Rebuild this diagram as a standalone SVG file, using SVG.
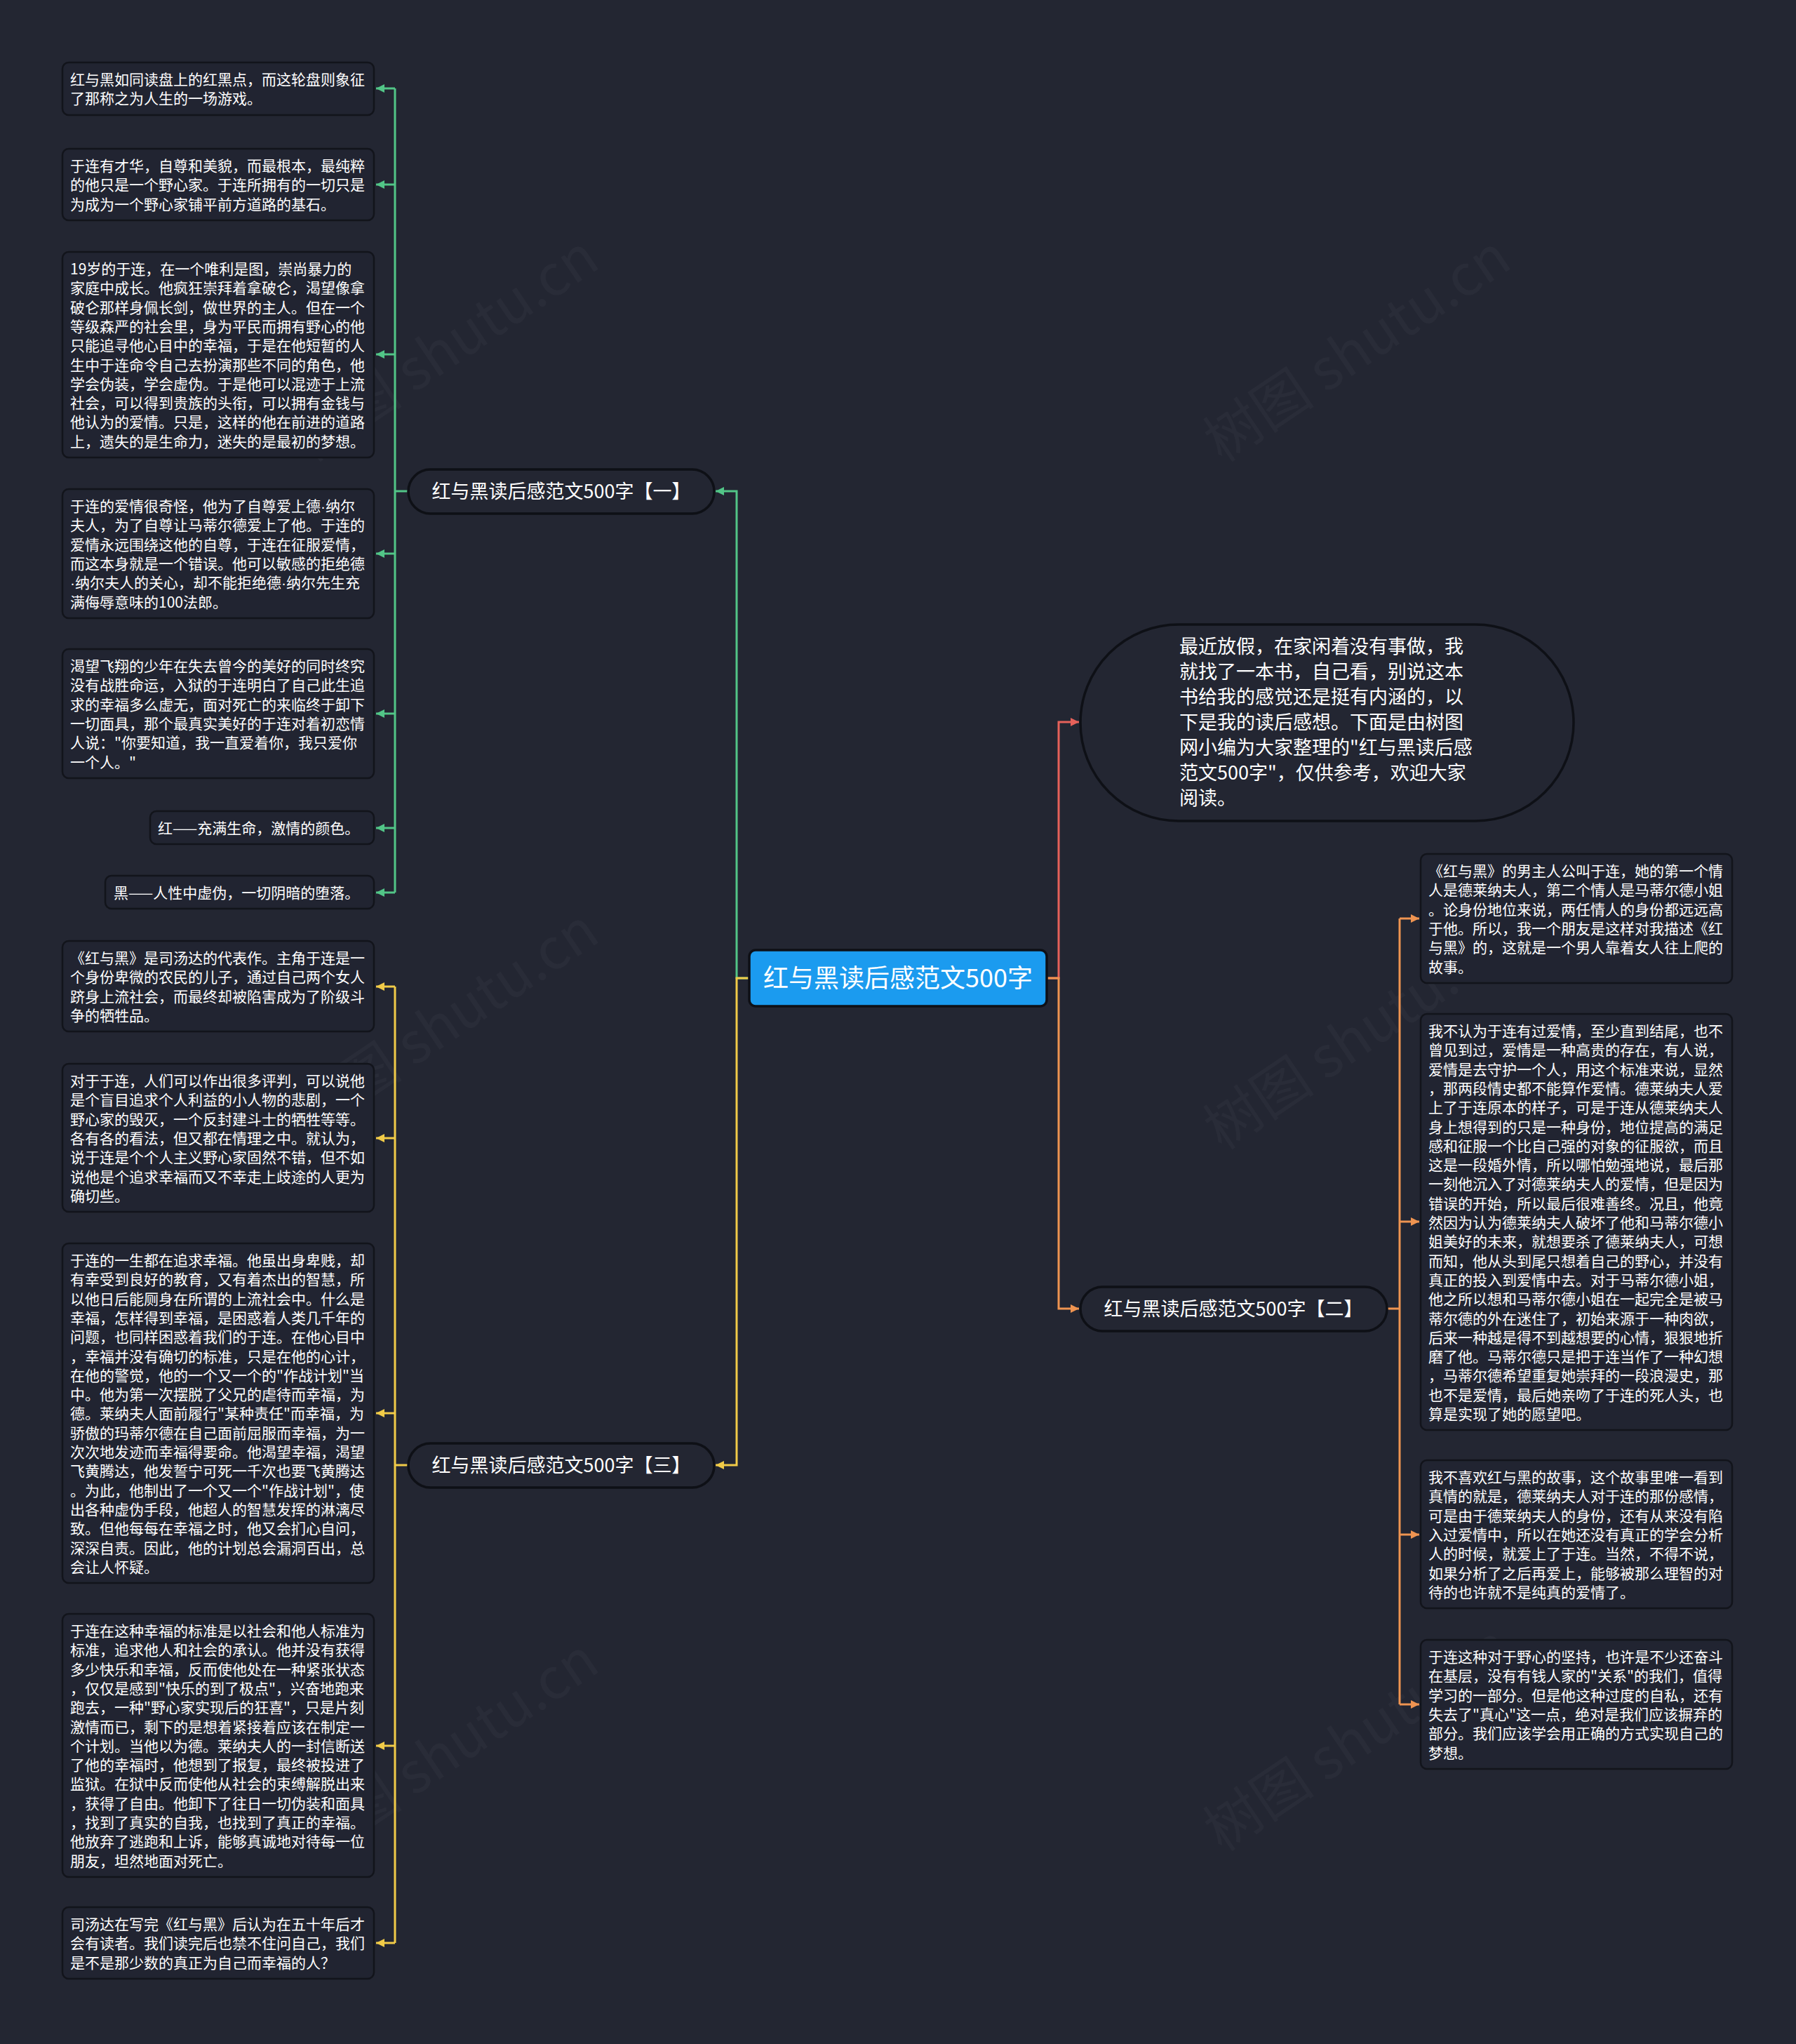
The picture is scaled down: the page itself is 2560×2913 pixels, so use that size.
<svg xmlns="http://www.w3.org/2000/svg" width="2560" height="2913" viewBox="0 0 2560 2913">
<defs>
<style>
.bg{fill:#232632}
.box{fill:#212431;stroke:#12141b;stroke-width:2.5}
.pill{fill:#232632;stroke:#0e1016;stroke-width:3.5}
.t{font-family:"Noto Sans CJK SC","Noto Sans",sans-serif;font-size:21px;fill:#ffffff}
.tb{font-family:"Noto Sans CJK SC","Noto Sans",sans-serif;font-size:27px;fill:#ffffff}
.tr{font-family:"Noto Sans CJK SC","Noto Sans",sans-serif;font-size:36px;fill:#ffffff}
.wm{font-family:"Noto Sans CJK SC","Noto Sans",sans-serif;font-size:80px;fill:#ffffff;fill-opacity:0.03}
.dot{font-family:"Liberation Sans",sans-serif}
.c{fill:none;stroke-width:3}
.g{stroke:#52c587}.y{stroke:#f1cb48}.r{stroke:#e6615a}.o{stroke:#ef9451}
</style>
<marker id="ag" markerUnits="userSpaceOnUse" markerWidth="14" markerHeight="14" refX="12" refY="7" orient="auto"><path d="M0,1 L12,7 L0,13 Z" fill="#52c587"/></marker>
<marker id="ay" markerUnits="userSpaceOnUse" markerWidth="14" markerHeight="14" refX="12" refY="7" orient="auto"><path d="M0,1 L12,7 L0,13 Z" fill="#f1cb48"/></marker>
<marker id="ar" markerUnits="userSpaceOnUse" markerWidth="14" markerHeight="14" refX="12" refY="7" orient="auto"><path d="M0,1 L12,7 L0,13 Z" fill="#e6615a"/></marker>
<marker id="ao" markerUnits="userSpaceOnUse" markerWidth="14" markerHeight="14" refX="12" refY="7" orient="auto"><path d="M0,1 L12,7 L0,13 Z" fill="#ef9451"/></marker>
</defs>
<rect class="bg" x="0" y="0" width="2560" height="2913"/>

<g id="watermark">
<text class="wm" transform="translate(650,520) rotate(-34)" text-anchor="middle">树图 shutu.cn</text>
<text class="wm" transform="translate(1950,520) rotate(-34)" text-anchor="middle">树图 shutu.cn</text>
<text class="wm" transform="translate(650,1480) rotate(-34)" text-anchor="middle">树图 shutu.cn</text>
<text class="wm" transform="translate(1950,1500) rotate(-34)" text-anchor="middle">树图 shutu.cn</text>
<text class="wm" transform="translate(650,2520) rotate(-34)" text-anchor="middle">树图 shutu.cn</text>
<text class="wm" transform="translate(1950,2500) rotate(-34)" text-anchor="middle">树图 shutu.cn</text>
</g>

<g id="connectors">
<path class="c g" d="M1068,1394 H1050 V700 H1020" marker-end="url(#ag)"/>
<path class="c y" d="M1068,1394 H1050 V2088 H1020" marker-end="url(#ay)"/>
<path class="c r" d="M1492,1394 H1509 V1029 H1538" marker-end="url(#ar)"/>
<path class="c o" d="M1492,1394 H1509 V1865 H1538" marker-end="url(#ao)"/>
<path class="c g" d="M582,700 H563"/>
<path class="c g" d="M563,126 V1272"/>
<path class="c g" d="M563,126 H536" marker-end="url(#ag)"/>
<path class="c g" d="M563,263 H536" marker-end="url(#ag)"/>
<path class="c g" d="M563,505 H536" marker-end="url(#ag)"/>
<path class="c g" d="M563,789 H536" marker-end="url(#ag)"/>
<path class="c g" d="M563,1017 H536" marker-end="url(#ag)"/>
<path class="c g" d="M563,1180 H536" marker-end="url(#ag)"/>
<path class="c g" d="M563,1272 H536" marker-end="url(#ag)"/>
<path class="c y" d="M582,2088 H563"/>
<path class="c y" d="M563,1406 V2769"/>
<path class="c y" d="M563,1406 H536" marker-end="url(#ay)"/>
<path class="c y" d="M563,1622 H536" marker-end="url(#ay)"/>
<path class="c y" d="M563,2014 H536" marker-end="url(#ay)"/>
<path class="c y" d="M563,2488 H536" marker-end="url(#ay)"/>
<path class="c y" d="M563,2769 H536" marker-end="url(#ay)"/>
<path class="c o" d="M1977,1865 H1995"/>
<path class="c o" d="M1995,1309 V2429"/>
<path class="c o" d="M1995,1309 H2023" marker-end="url(#ao)"/>
<path class="c o" d="M1995,1741 H2023" marker-end="url(#ao)"/>
<path class="c o" d="M1995,2187 H2023" marker-end="url(#ao)"/>
<path class="c o" d="M1995,2429 H2023" marker-end="url(#ao)"/>
</g>

<g id="root">
<rect x="1068" y="1354" width="424" height="80" rx="9" fill="#1b9bef" stroke="#0e1016" stroke-width="3.5"/>
<text class="tr" x="1280" y="1407" text-anchor="middle">红与黑读后感范文500字</text>
</g>

<g id="intro">
<rect class="pill" x="1540" y="890" width="703" height="280" rx="140"/>
<text class="tb" x="1681" y="931">
<tspan x="1681" y="931">最近放假，在家闲着没有事做，我</tspan>
<tspan x="1681" y="967">就找了一本书，自己看，别说这本</tspan>
<tspan x="1681" y="1003">书给我的感觉还是挺有内涵的，以</tspan>
<tspan x="1681" y="1039">下是我的读后感想。下面是由树图</tspan>
<tspan x="1681" y="1075">网小编为大家整理的"红与黑读后感</tspan>
<tspan x="1681" y="1111">范文500字"，仅供参考，欢迎大家</tspan>
<tspan x="1681" y="1147">阅读。</tspan>
</text>
</g>

<g id="branch1">
<rect class="pill" x="582" y="669" width="436" height="63" rx="31.5"/>
<text class="tb" x="800" y="710" text-anchor="middle">红与黑读后感范文500字【一】</text>
</g>
<g id="branch2">
<rect class="pill" x="1540" y="1834" width="437" height="63" rx="31.5"/>
<text class="tb" x="1758" y="1875" text-anchor="middle">红与黑读后感范文500字【二】</text>
</g>
<g id="branch3">
<rect class="pill" x="582" y="2057" width="436" height="63" rx="31.5"/>
<text class="tb" x="800" y="2098" text-anchor="middle">红与黑读后感范文500字【三】</text>
</g>

<g id="l1">
<rect class="box" x="89" y="89" width="444" height="75" rx="9"/>
<text class="t"><tspan x="100" y="121">红与黑如同读盘上的红黑点，而这轮盘则象征</tspan><tspan x="100" y="148.3">了那称之为人生的一场游戏。</tspan></text>
</g>
<g id="l2">
<rect class="box" x="89" y="212" width="444" height="102" rx="9"/>
<text class="t"><tspan x="100" y="244">于连有才华，自尊和美貌，而最根本，最纯粹</tspan><tspan x="100" y="271.3">的他只是一个野心家。于连所拥有的一切只是</tspan><tspan x="100" y="298.6">为成为一个野心家铺平前方道路的基石。</tspan></text>
</g>
<g id="l3">
<rect class="box" x="89" y="359" width="444" height="293" rx="9"/>
<text class="t">
<tspan x="100" y="391">19岁的于连，在一个唯利是图，崇尚暴力的</tspan>
<tspan x="100" y="418.3">家庭中成长。他疯狂崇拜着拿破仑，渴望像拿</tspan>
<tspan x="100" y="445.6">破仑那样身佩长剑，做世界的主人。但在一个</tspan>
<tspan x="100" y="472.9">等级森严的社会里，身为平民而拥有野心的他</tspan>
<tspan x="100" y="500.2">只能追寻他心目中的幸福，于是在他短暂的人</tspan>
<tspan x="100" y="527.5">生中于连命令自己去扮演那些不同的角色，他</tspan>
<tspan x="100" y="554.8">学会伪装，学会虚伪。于是他可以混迹于上流</tspan>
<tspan x="100" y="582.1">社会，可以得到贵族的头衔，可以拥有金钱与</tspan>
<tspan x="100" y="609.4">他认为的爱情。只是，这样的他在前进的道路</tspan>
<tspan x="100" y="636.7">上，遗失的是生命力，迷失的是最初的梦想。</tspan>
</text>
</g>
<g id="l4">
<rect class="box" x="89" y="697" width="444" height="184" rx="9"/>
<text class="t">
<tspan x="100" y="729">于连的爱情很奇怪，他为了自尊爱上德<tspan class="dot">·</tspan>纳尔</tspan>
<tspan x="100" y="756.3">夫人，为了自尊让马蒂尔德爱上了他。于连的</tspan>
<tspan x="100" y="783.6">爱情永远围绕这他的自尊，于连在征服爱情，</tspan>
<tspan x="100" y="810.9">而这本身就是一个错误。他可以敏感的拒绝德</tspan>
<tspan x="100" y="838.2"><tspan class="dot">·</tspan>纳尔夫人的关心，却不能拒绝德<tspan class="dot">·</tspan>纳尔先生充</tspan>
<tspan x="100" y="865.5">满侮辱意味的100法郎。</tspan>
</text>
</g>
<g id="l5">
<rect class="box" x="89" y="925" width="444" height="184" rx="9"/>
<text class="t">
<tspan x="100" y="957">渴望飞翔的少年在失去曾今的美好的同时终究</tspan>
<tspan x="100" y="984.3">没有战胜命运，入狱的于连明白了自己此生追</tspan>
<tspan x="100" y="1011.6">求的幸福多么虚无，面对死亡的来临终于卸下</tspan>
<tspan x="100" y="1038.9">一切面具，那个最真实美好的于连对着初恋情</tspan>
<tspan x="100" y="1066.2">人说："你要知道，我一直爱着你，我只爱你</tspan>
<tspan x="100" y="1093.5">一个人。"</tspan>
</text>
</g>
<g id="l6">
<rect class="box" x="214" y="1156" width="319" height="47" rx="9"/>
<text class="t" x="225" y="1188">红——充满生命，激情的颜色。</text>
</g>
<g id="l7">
<rect class="box" x="150" y="1248" width="383" height="47" rx="9"/>
<text class="t" x="162" y="1280">黑——人性中虚伪，一切阴暗的堕落。</text>
</g>
<g id="l8">
<rect class="box" x="89" y="1341" width="444" height="129" rx="9"/>
<text class="t">
<tspan x="100" y="1373">《红与黑》是司汤达的代表作。主角于连是一</tspan>
<tspan x="100" y="1400.3">个身份卑微的农民的儿子，通过自己两个女人</tspan>
<tspan x="100" y="1427.6">跻身上流社会，而最终却被陷害成为了阶级斗</tspan>
<tspan x="100" y="1454.9">争的牺牲品。</tspan>
</text>
</g>
<g id="l9">
<rect class="box" x="89" y="1516" width="444" height="211" rx="9"/>
<text class="t">
<tspan x="100" y="1548">对于于连，人们可以作出很多评判，可以说他</tspan>
<tspan x="100" y="1575.3">是个盲目追求个人利益的小人物的悲剧，一个</tspan>
<tspan x="100" y="1602.6">野心家的毁灭，一个反封建斗士的牺牲等等。</tspan>
<tspan x="100" y="1629.9">各有各的看法，但又都在情理之中。就认为，</tspan>
<tspan x="100" y="1657.2">说于连是个个人主义野心家固然不错，但不如</tspan>
<tspan x="100" y="1684.5">说他是个追求幸福而又不幸走上歧途的人更为</tspan>
<tspan x="100" y="1711.8">确切些。</tspan>
</text>
</g>
<g id="l10">
<rect class="box" x="89" y="1772" width="444" height="484" rx="9"/>
<text class="t">
<tspan x="100" y="1804">于连的一生都在追求幸福。他虽出身卑贱，却</tspan>
<tspan x="100" y="1831.3">有幸受到良好的教育，又有着杰出的智慧，所</tspan>
<tspan x="100" y="1858.6">以他日后能厕身在所谓的上流社会中。什么是</tspan>
<tspan x="100" y="1885.9">幸福，怎样得到幸福，是困惑着人类几千年的</tspan>
<tspan x="100" y="1913.2">问题，也同样困惑着我们的于连。在他心目中</tspan>
<tspan x="100" y="1940.5">，幸福并没有确切的标准，只是在他的心计，</tspan>
<tspan x="100" y="1967.8">在他的警觉，他的一个又一个的"作战计划"当</tspan>
<tspan x="100" y="1995.1">中。他为第一次摆脱了父兄的虐待而幸福，为</tspan>
<tspan x="100" y="2022.4">德。莱纳夫人面前履行"某种责任"而幸福，为</tspan>
<tspan x="100" y="2049.7">骄傲的玛蒂尔德在自己面前屈服而幸福，为一</tspan>
<tspan x="100" y="2077">次次地发迹而幸福得要命。他渴望幸福，渴望</tspan>
<tspan x="100" y="2104.3">飞黄腾达，他发誓宁可死一千次也要飞黄腾达</tspan>
<tspan x="100" y="2131.6">。为此，他制出了一个又一个"作战计划"，使</tspan>
<tspan x="100" y="2158.9">出各种虚伪手段，他超人的智慧发挥的淋漓尽</tspan>
<tspan x="100" y="2186.2">致。但他每每在幸福之时，他又会扪心自问，</tspan>
<tspan x="100" y="2213.5">深深自责。因此，他的计划总会漏洞百出，总</tspan>
<tspan x="100" y="2240.8">会让人怀疑。</tspan>
</text>
</g>
<g id="l11">
<rect class="box" x="89" y="2300" width="444" height="375" rx="9"/>
<text class="t">
<tspan x="100" y="2332">于连在这种幸福的标准是以社会和他人标准为</tspan>
<tspan x="100" y="2359.3">标准，追求他人和社会的承认。他并没有获得</tspan>
<tspan x="100" y="2386.6">多少快乐和幸福，反而使他处在一种紧张状态</tspan>
<tspan x="100" y="2413.9">，仅仅是感到"快乐的到了极点"，兴奋地跑来</tspan>
<tspan x="100" y="2441.2">跑去，一种"野心家实现后的狂喜"，只是片刻</tspan>
<tspan x="100" y="2468.5">激情而已，剩下的是想着紧接着应该在制定一</tspan>
<tspan x="100" y="2495.8">个计划。当他以为德。莱纳夫人的一封信断送</tspan>
<tspan x="100" y="2523.1">了他的幸福时，他想到了报复，最终被投进了</tspan>
<tspan x="100" y="2550.4">监狱。在狱中反而使他从社会的束缚解脱出来</tspan>
<tspan x="100" y="2577.7">，获得了自由。他卸下了往日一切伪装和面具</tspan>
<tspan x="100" y="2605">，找到了真实的自我，也找到了真正的幸福。</tspan>
<tspan x="100" y="2632.3">他放弃了逃跑和上诉，能够真诚地对待每一位</tspan>
<tspan x="100" y="2659.6">朋友，坦然地面对死亡。</tspan>
</text>
</g>
<g id="l12">
<rect class="box" x="89" y="2718" width="444" height="102" rx="9"/>
<text class="t">
<tspan x="100" y="2750">司汤达在写完《红与黑》后认为在五十年后才</tspan>
<tspan x="100" y="2777.3">会有读者。我们读完后也禁不住问自己，我们</tspan>
<tspan x="100" y="2804.6">是不是那少数的真正为自己而幸福的人？</tspan>
</text>
</g>

<g id="r1">
<rect class="box" x="2025" y="1217" width="444" height="184" rx="9"/>
<text class="t">
<tspan x="2036" y="1249">《红与黑》的男主人公叫于连，她的第一个情</tspan>
<tspan x="2036" y="1276.3">人是德莱纳夫人，第二个情人是马蒂尔德小姐</tspan>
<tspan x="2036" y="1303.6">。论身份地位来说，两任情人的身份都远远高</tspan>
<tspan x="2036" y="1330.9">于他。所以，我一个朋友是这样对我描述《红</tspan>
<tspan x="2036" y="1358.2">与黑》的，这就是一个男人靠着女人往上爬的</tspan>
<tspan x="2036" y="1385.5">故事。</tspan>
</text>
</g>
<g id="r2">
<rect class="box" x="2025" y="1445" width="444" height="593" rx="9"/>
<text class="t">
<tspan x="2036" y="1477">我不认为于连有过爱情，至少直到结尾，也不</tspan>
<tspan x="2036" y="1504.3">曾见到过，爱情是一种高贵的存在，有人说，</tspan>
<tspan x="2036" y="1531.6">爱情是去守护一个人，用这个标准来说，显然</tspan>
<tspan x="2036" y="1558.9">，那两段情史都不能算作爱情。德莱纳夫人爱</tspan>
<tspan x="2036" y="1586.2">上了于连原本的样子，可是于连从德莱纳夫人</tspan>
<tspan x="2036" y="1613.5">身上想得到的只是一种身份，地位提高的满足</tspan>
<tspan x="2036" y="1640.8">感和征服一个比自己强的对象的征服欲，而且</tspan>
<tspan x="2036" y="1668.1">这是一段婚外情，所以哪怕勉强地说，最后那</tspan>
<tspan x="2036" y="1695.4">一刻他沉入了对德莱纳夫人的爱情，但是因为</tspan>
<tspan x="2036" y="1722.7">错误的开始，所以最后很难善终。况且，他竟</tspan>
<tspan x="2036" y="1750">然因为认为德莱纳夫人破坏了他和马蒂尔德小</tspan>
<tspan x="2036" y="1777.3">姐美好的未来，就想要杀了德莱纳夫人，可想</tspan>
<tspan x="2036" y="1804.6">而知，他从头到尾只想着自己的野心，并没有</tspan>
<tspan x="2036" y="1831.9">真正的投入到爱情中去。对于马蒂尔德小姐，</tspan>
<tspan x="2036" y="1859.2">他之所以想和马蒂尔德小姐在一起完全是被马</tspan>
<tspan x="2036" y="1886.5">蒂尔德的外在迷住了，初始来源于一种肉欲，</tspan>
<tspan x="2036" y="1913.8">后来一种越是得不到越想要的心情，狠狠地折</tspan>
<tspan x="2036" y="1941.1">磨了他。马蒂尔德只是把于连当作了一种幻想</tspan>
<tspan x="2036" y="1968.4">，马蒂尔德希望重复她崇拜的一段浪漫史，那</tspan>
<tspan x="2036" y="1995.7">也不是爱情，最后她亲吻了于连的死人头，也</tspan>
<tspan x="2036" y="2023">算是实现了她的愿望吧。</tspan>
</text>
</g>
<g id="r3">
<rect class="box" x="2025" y="2081" width="444" height="211" rx="9"/>
<text class="t">
<tspan x="2036" y="2113">我不喜欢红与黑的故事，这个故事里唯一看到</tspan>
<tspan x="2036" y="2140.3">真情的就是，德莱纳夫人对于连的那份感情，</tspan>
<tspan x="2036" y="2167.6">可是由于德莱纳夫人的身份，还有从来没有陷</tspan>
<tspan x="2036" y="2194.9">入过爱情中，所以在她还没有真正的学会分析</tspan>
<tspan x="2036" y="2222.2">人的时候，就爱上了于连。当然，不得不说，</tspan>
<tspan x="2036" y="2249.5">如果分析了之后再爱上，能够被那么理智的对</tspan>
<tspan x="2036" y="2276.8">待的也许就不是纯真的爱情了。</tspan>
</text>
</g>
<g id="r4">
<rect class="box" x="2025" y="2337" width="444" height="184" rx="9"/>
<text class="t">
<tspan x="2036" y="2369">于连这种对于野心的坚持，也许是不少还奋斗</tspan>
<tspan x="2036" y="2396.3">在基层，没有有钱人家的"关系"的我们，值得</tspan>
<tspan x="2036" y="2423.6">学习的一部分。但是他这种过度的自私，还有</tspan>
<tspan x="2036" y="2450.9">失去了"真心"这一点，绝对是我们应该摒弃的</tspan>
<tspan x="2036" y="2478.2">部分。我们应该学会用正确的方式实现自己的</tspan>
<tspan x="2036" y="2505.5">梦想。</tspan>
</text>
</g>
</svg>
